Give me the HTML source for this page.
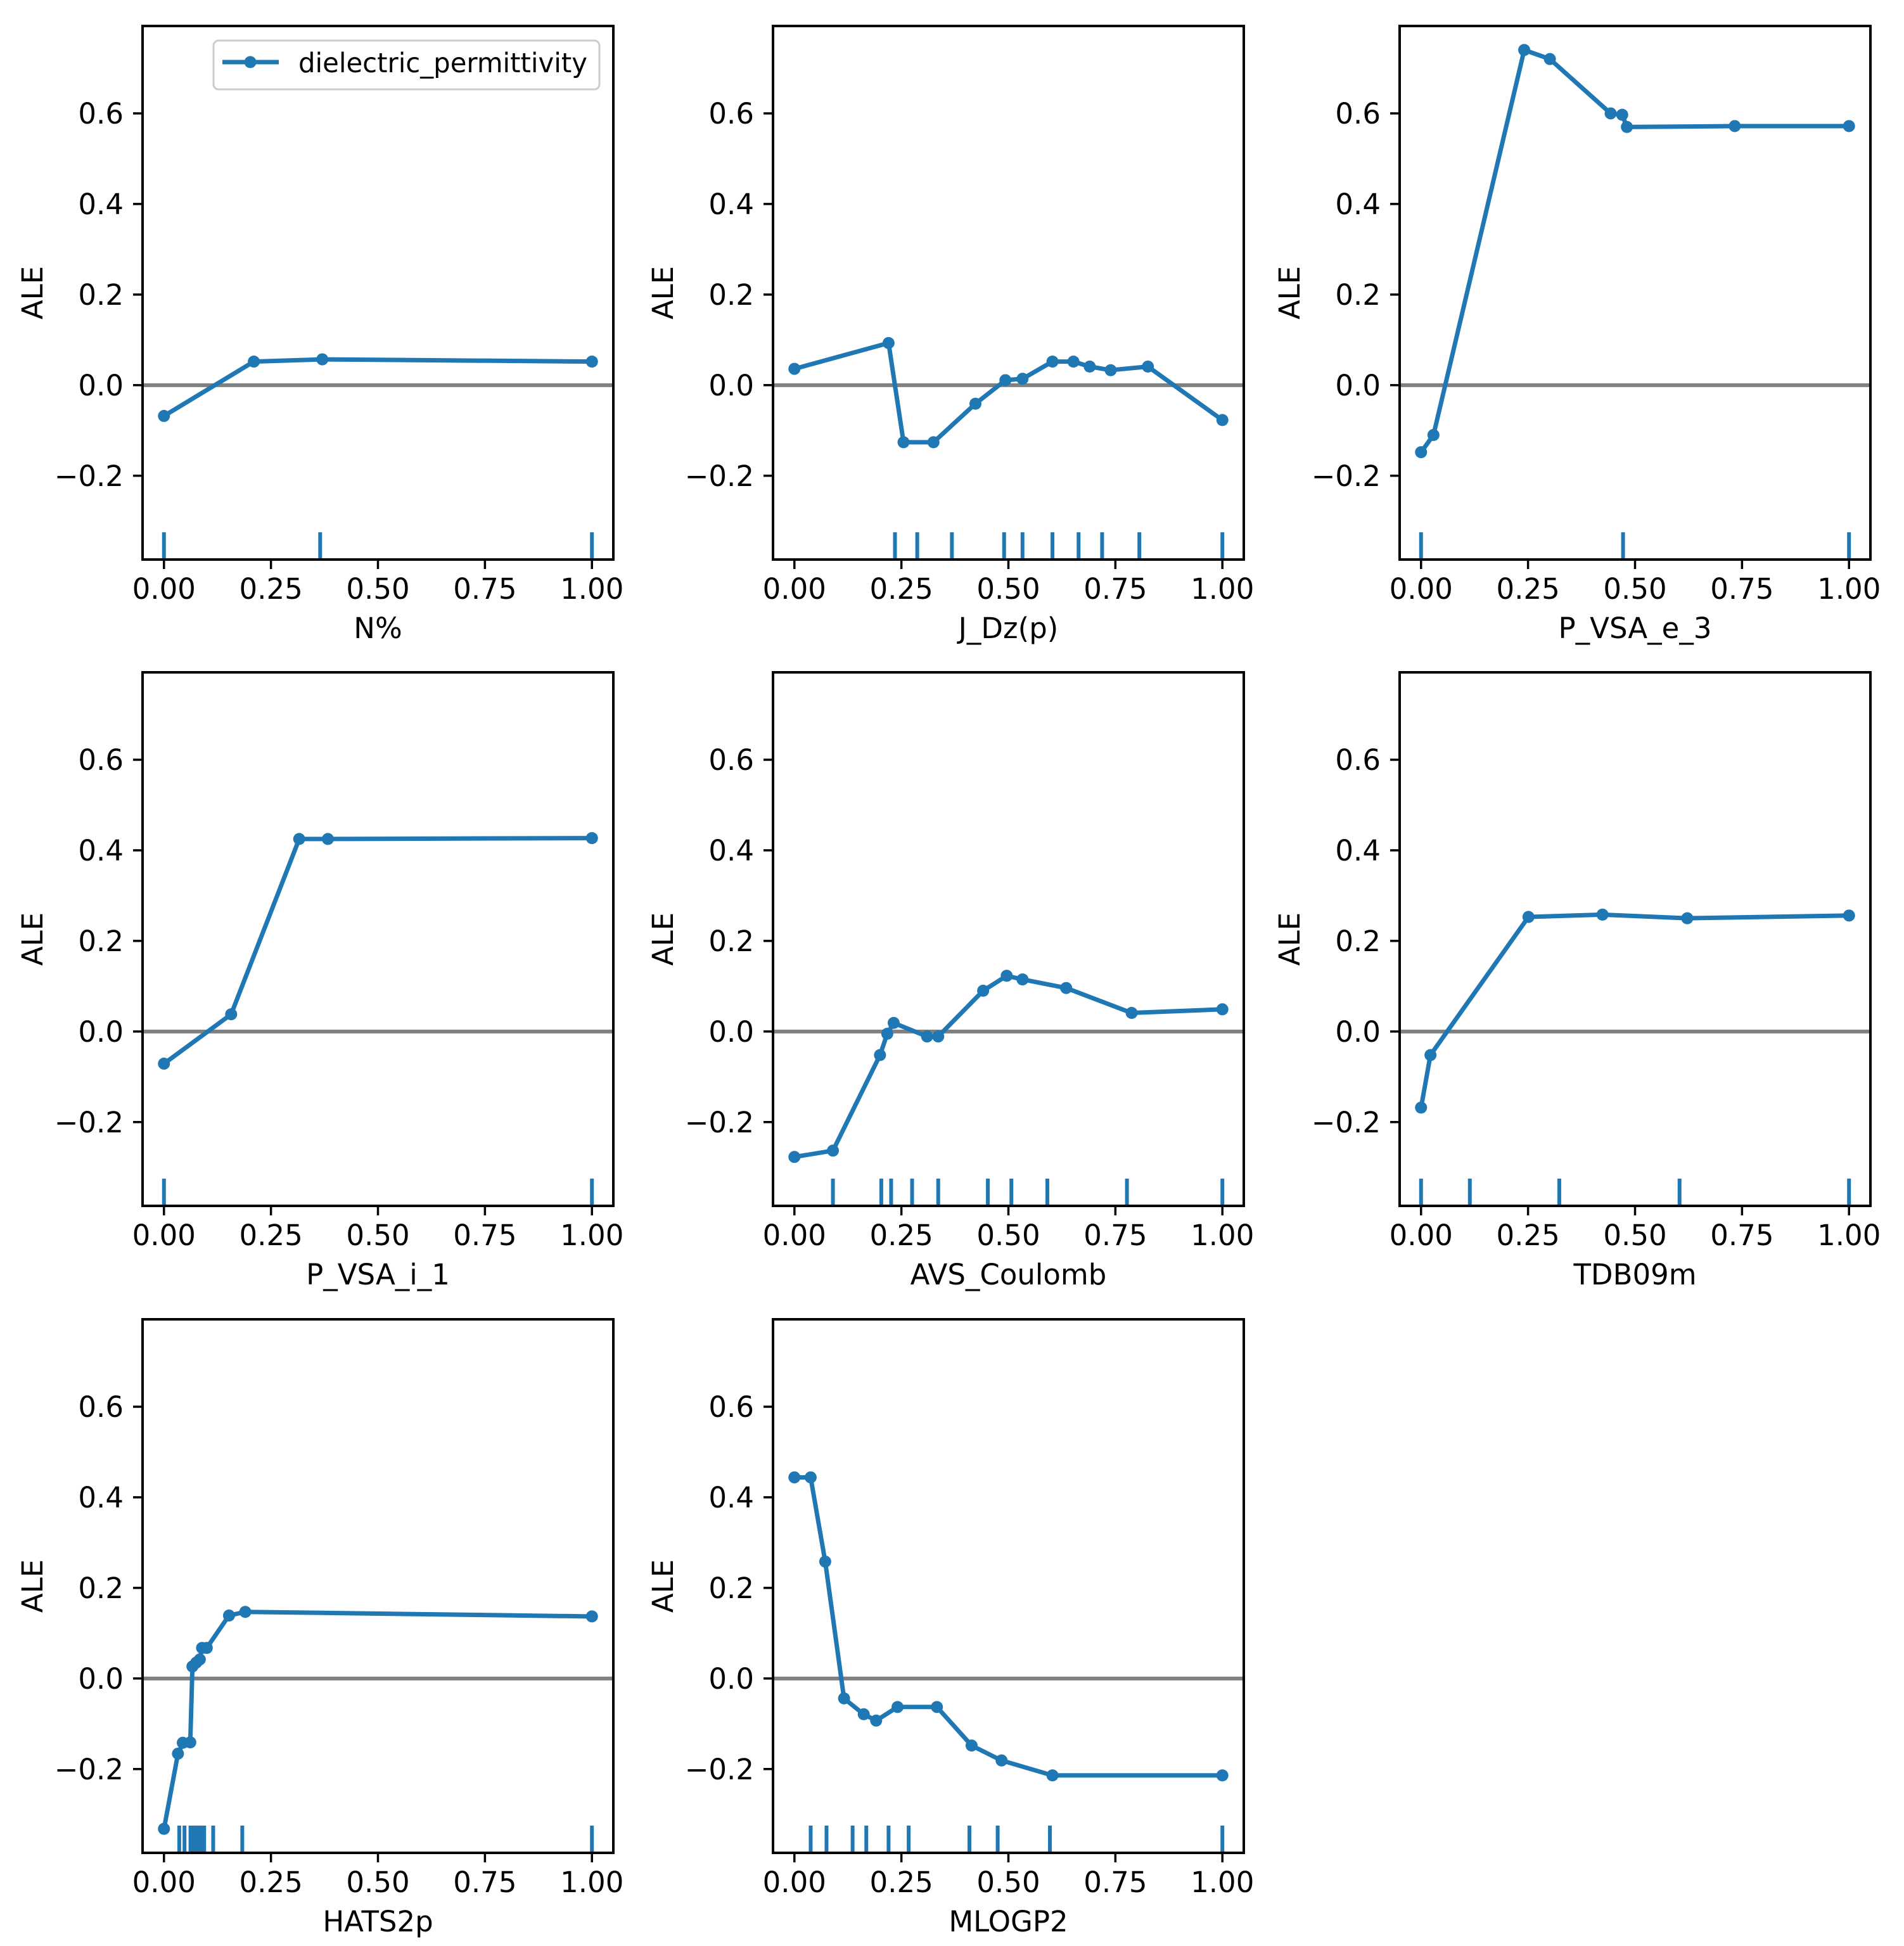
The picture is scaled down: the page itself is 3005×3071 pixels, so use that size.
<!DOCTYPE html>
<html><head><meta charset="utf-8">
<style>
html,body{margin:0;padding:0;background:#fff;}
svg{display:block;font-family:"DejaVu Sans","Liberation Sans",sans-serif;}
</style></head>
<body>
<svg id="fig" width="3005" height="3071" viewBox="0 0 3005 3071" xmlns="http://www.w3.org/2000/svg">
<rect width="3005" height="3071" fill="#fff"/>
</svg>
<script>
// ---- data ----
const xTicks = [0, 0.25, 0.5, 0.75, 1];
const xTickLabels = ["0.00", "0.25", "0.50", "0.75", "1.00"];
const yTicks = [-0.2, 0, 0.2, 0.4, 0.6];
const yTickLabels = ["\u22120.2", "0.0", "0.2", "0.4", "0.6"];
const featureNames = ["N%", "J_Dz(p)", "P_VSA_e_3", "P_VSA_i_1", "AVS_Coulomb", "TDB09m", "HATS2p", "MLOGP2"];

const nPctX = [0, 0.21, 0.37, 1];
const nPctY = [-0.068, 0.052, 0.057, 0.052];
const nPctRug = [0, 0.365, 1];

const jdzX = [0, 0.22, 0.255, 0.325, 0.423, 0.493, 0.533, 0.603, 0.652, 0.69, 0.739, 0.826, 1];
const jdzY = [0.036, 0.093, -0.126, -0.126, -0.041, 0.011, 0.014, 0.052, 0.052, 0.041, 0.033, 0.041, -0.077];
const jdzRug = [0.235, 0.287, 0.368, 0.49, 0.533, 0.603, 0.664, 0.719, 0.806, 1];

const pvsaeX = [0, 0.029, 0.241, 0.301, 0.443, 0.47, 0.481, 0.733, 1];
const pvsaeY = [-0.148, -0.11, 0.74, 0.72, 0.6, 0.597, 0.57, 0.572, 0.572];
const pvsaeRug = [0, 0.472, 1];

const pvsaiX = [0, 0.157, 0.316, 0.383, 1];
const pvsaiY = [-0.071, 0.038, 0.425, 0.425, 0.427];
const pvsaiRug = [0, 1];

const avsX = [0, 0.09, 0.2, 0.217, 0.232, 0.31, 0.336, 0.441, 0.496, 0.533, 0.635, 0.788, 1];
const avsY = [-0.277, -0.263, -0.052, -0.005, 0.019, -0.011, -0.011, 0.09, 0.123, 0.115, 0.096, 0.041, 0.049];
const avsRug = [0.09, 0.203, 0.226, 0.275, 0.336, 0.452, 0.507, 0.591, 0.777, 1];

const tdbX = [0, 0.022, 0.251, 0.424, 0.622, 1];
const tdbY = [-0.168, -0.052, 0.253, 0.258, 0.25, 0.256];
const tdbRug = [0, 0.114, 0.323, 0.604, 1];

const hatsX = [0, 0.0327, 0.044, 0.0615, 0.0665, 0.0754, 0.0838, 0.089, 0.1, 0.152, 0.19, 1];
const hatsY = [-0.332, -0.166, -0.142, -0.141, 0.0265, 0.035, 0.042, 0.0674, 0.0674, 0.139, 0.147, 0.137];
const hatsRug = [0.0357, 0.048, 0.062, 0.07, 0.078, 0.086, 0.094, 0.115, 0.183, 1];

const mlogpX = [0, 0.038, 0.072, 0.116, 0.162, 0.191, 0.241, 0.333, 0.414, 0.484, 0.603, 1];
const mlogpY = [0.444, 0.444, 0.258, -0.044, -0.079, -0.093, -0.063, -0.063, -0.148, -0.181, -0.214, -0.214];
const mlogpRug = [0.038, 0.075, 0.136, 0.168, 0.22, 0.267, 0.409, 0.475, 0.597, 1];

const panelXs = [nPctX, jdzX, pvsaeX, pvsaiX, avsX, tdbX, hatsX, mlogpX];
const panelYs = [nPctY, jdzY, pvsaeY, pvsaiY, avsY, tdbY, hatsY, mlogpY];
const panelRugs = [nPctRug, jdzRug, pvsaeRug, pvsaiRug, avsRug, tdbRug, hatsRug, mlogpRug];
const seriesName = "dielectric_permittivity";

// ---- layout ----
const NS = "http://www.w3.org/2000/svg";
const svg = document.getElementById("fig");
const colLeft = [225, 1220, 2209];
const rowTop = [41, 1061, 2082];
const AW = 743, AH = 842;
const XMIN = -0.05, XMAX = 1.05, YMIN = -0.385, YMAX = 0.793;
const BLUE = "#1f77b4";
const FS = 45;

function mk(tag, attrs, parent) {
  const e = document.createElementNS(NS, tag);
  for (const k in attrs) e.setAttribute(k, attrs[k]);
  (parent || svg).appendChild(e);
  return e;
}

featureNames.forEach((name, i) => {
  const L = colLeft[i % 3], T = rowTop[Math.floor(i / 3)];
  const sx = v => L + (v - XMIN) / (XMAX - XMIN) * AW;
  const sy = v => T + (YMAX - v) / (YMAX - YMIN) * AH;
  const g = mk("g", {});
  
  

  const z = mk("line", {x1: L, x2: L + AW, y1: sy(0), y2: sy(0), stroke: "#808080", "stroke-width": 6}, g);
  
  

  panelRugs[i].forEach(r => {
    const rl = mk("line", {x1: sx(r), x2: sx(r), y1: T + AH, y2: T + AH - 43, stroke: BLUE, "stroke-width": 6}, g);
    
    
  });

  const xs = panelXs[i], ys = panelYs[i];
  const pts = xs.map((x, k) => sx(x).toFixed(1) + "," + sy(ys[k]).toFixed(1)).join(" ");
  const pl = mk("polyline", {points: pts, fill: "none", stroke: BLUE, "stroke-width": 7, "stroke-linejoin": "round", "stroke-linecap": "square"}, g);
  
  
  xs.forEach((x, k) => {
    const c = mk("circle", {cx: sx(x), cy: sy(ys[k]), r: 9.5, fill: BLUE}, g);
    
    
  });

  const fr = mk("rect", {x: L, y: T, width: AW, height: AH, fill: "none", stroke: "#000", "stroke-width": 4}, g);
  
  

  xTicks.forEach((t, k) => {
    const tl = mk("line", {x1: sx(t), x2: sx(t), y1: T + AH, y2: T + AH + 15, stroke: "#000", "stroke-width": 3.5}, g);
    
    
    const tx = mk("text", {x: sx(t), y: T + AH + 62, "text-anchor": "middle", "font-size": FS, fill: "#000"}, g);
    tx.textContent = xTickLabels[k];
    
    
  });
  yTicks.forEach((t, k) => {
    const tl = mk("line", {x1: L, x2: L - 15, y1: sy(t), y2: sy(t), stroke: "#000", "stroke-width": 3.5}, g);
    
    
    const ty = mk("text", {x: L - 30, y: sy(t) + 16, "text-anchor": "end", "font-size": FS, fill: "#000"}, g);
    ty.textContent = yTickLabels[k];
    
    
  });
  const xl = mk("text", {x: L + AW / 2, y: T + AH + 124, "text-anchor": "middle", "font-size": FS, fill: "#000"}, g);
  xl.textContent = name;
  
  
  const yx = L - 158, yy = T + AH / 2;
  const yl = mk("text", {x: yx, y: yy, "text-anchor": "middle", "font-size": FS, fill: "#000", transform: "rotate(-90 " + yx + " " + yy + ")"}, g);
  yl.textContent = "ALE";
  
  

  if (i === 0) {
    const lg = mk("g", {}, g);
    
    
    mk("rect", {x: 337, y: 64, width: 609, height: 77, rx: 8, fill: "#fff", "fill-opacity": 0.8, stroke: "#cccccc", "stroke-width": 3}, lg);
    const ll = mk("line", {x1: 351, x2: 440, y1: 98, y2: 98, stroke: BLUE, "stroke-width": 7}, lg);
    
    
    mk("circle", {cx: 395, cy: 98, r: 9.5, fill: BLUE}, lg);
    const lt = mk("text", {x: 471, y: 114, "font-size": 43, textLength: 456, lengthAdjust: "spacingAndGlyphs", fill: "#000"}, lg);
    lt.textContent = seriesName;
    
    
  }
});
</script>
</body></html>
